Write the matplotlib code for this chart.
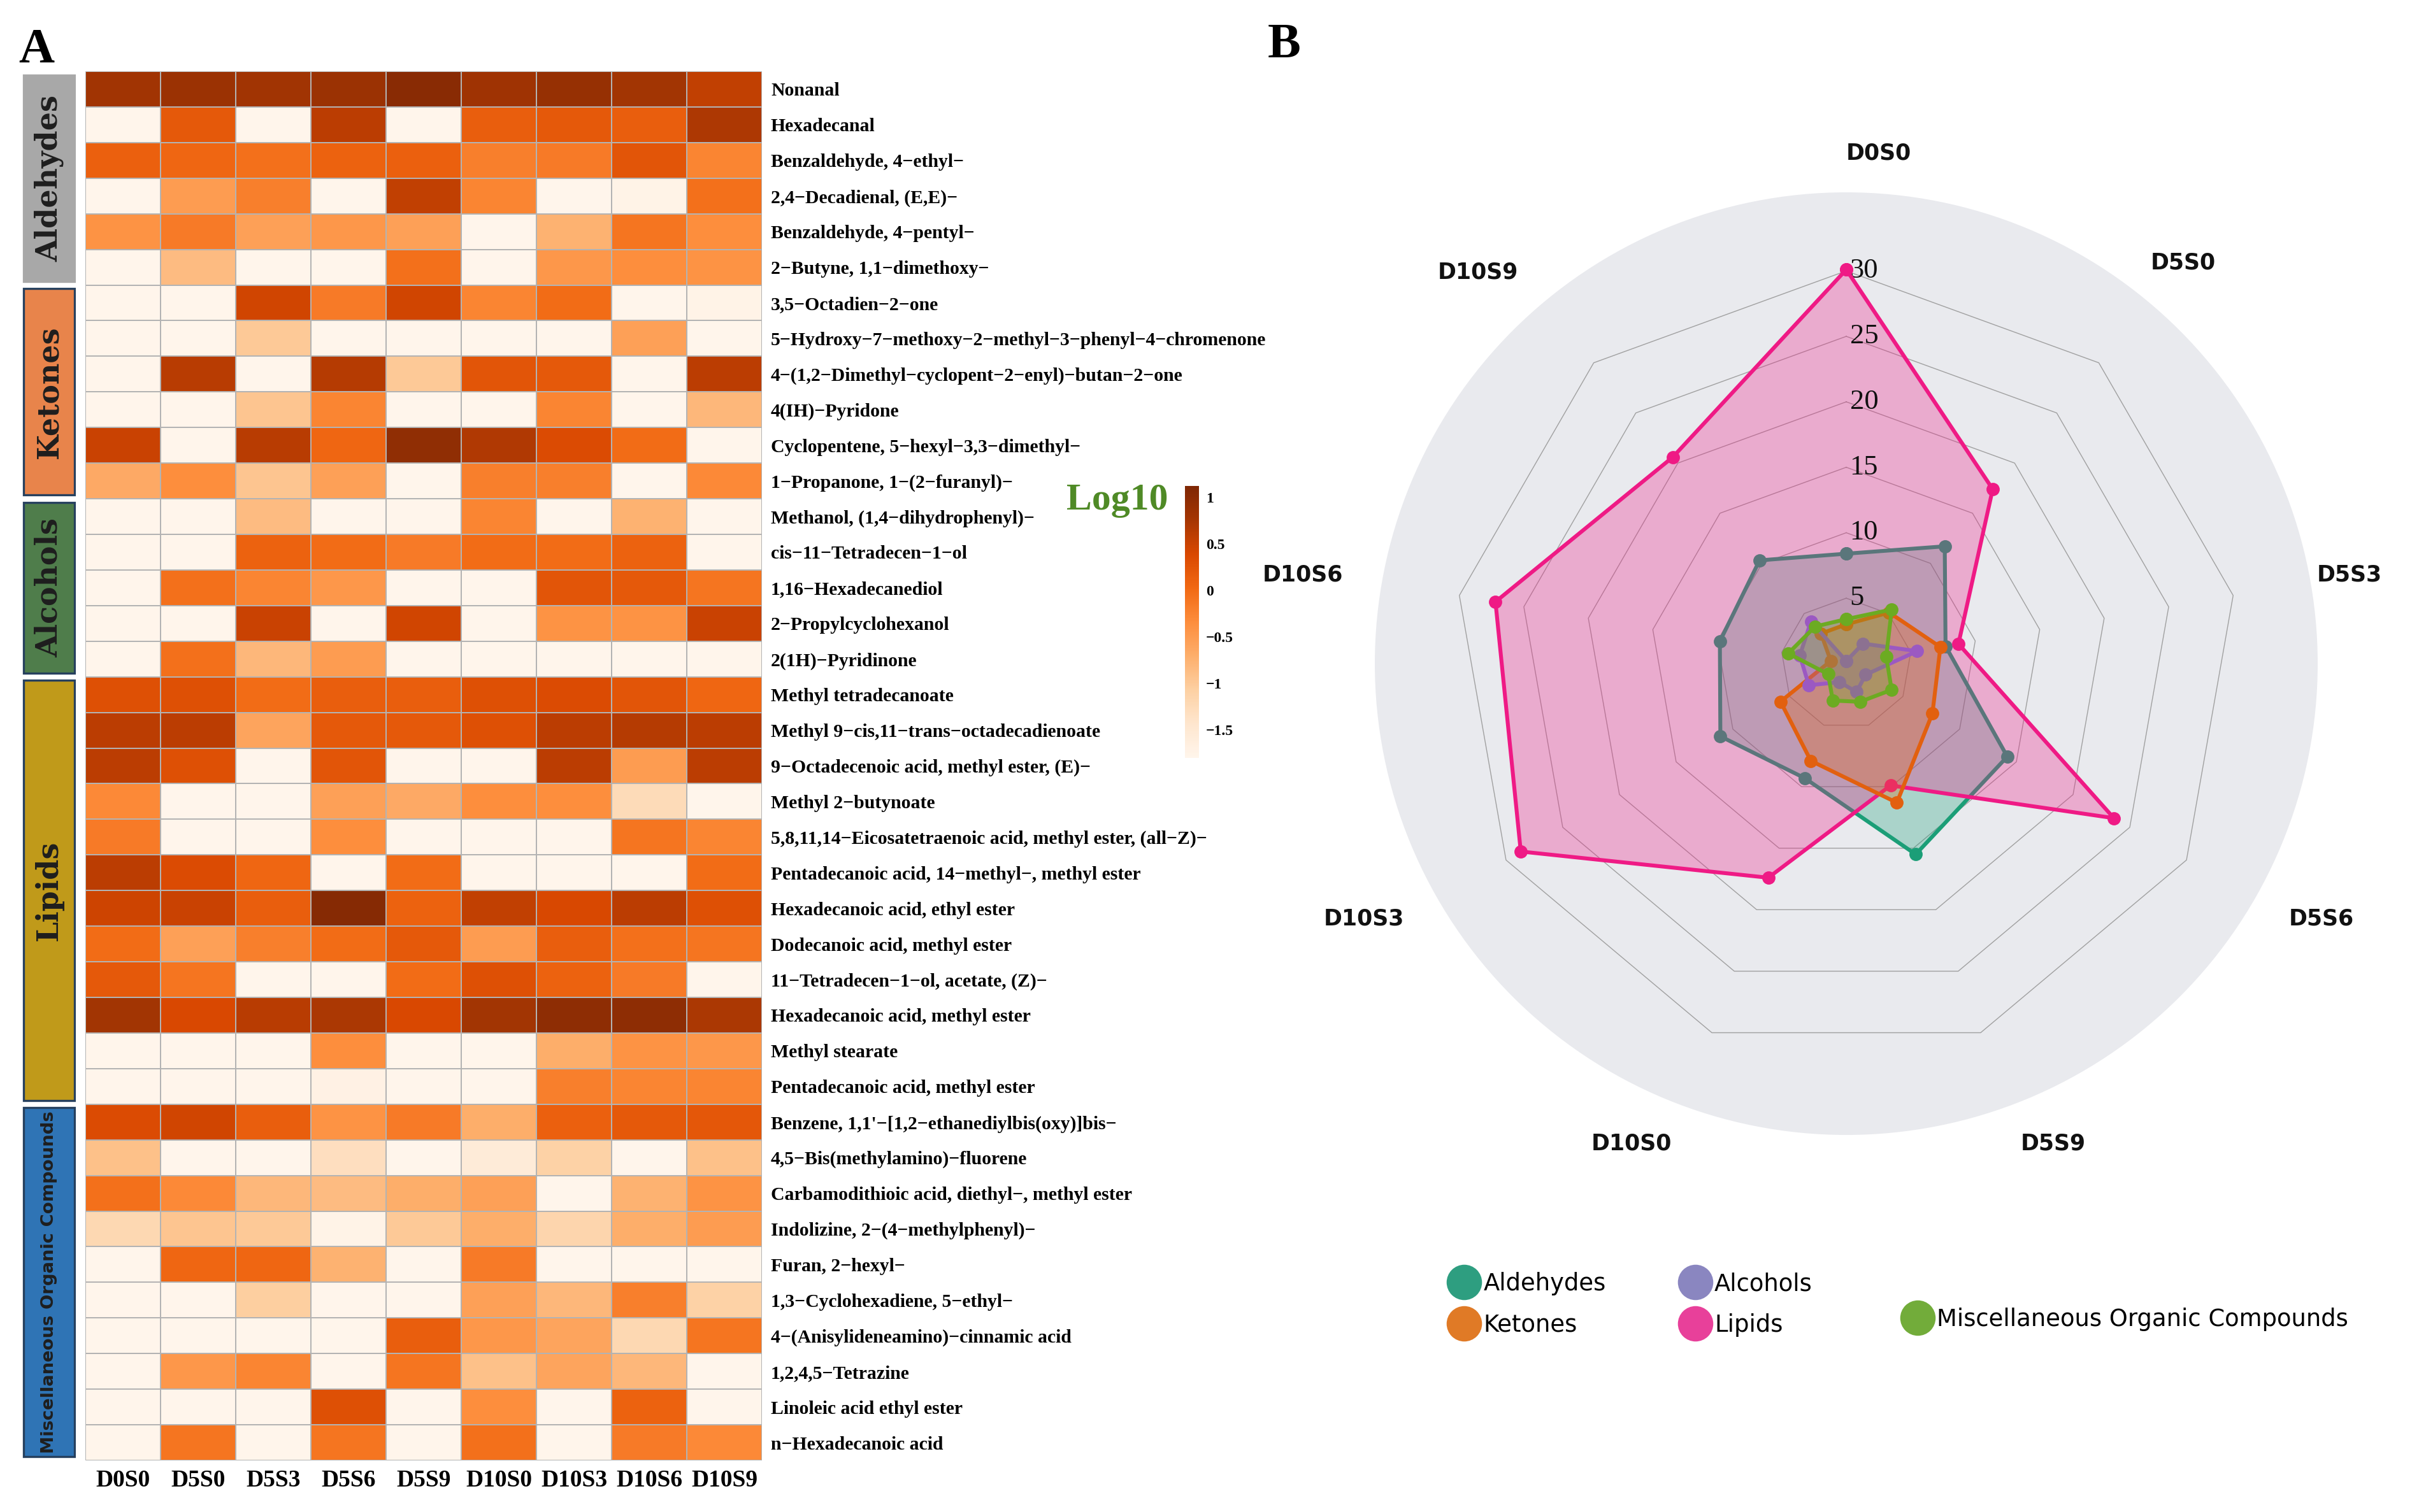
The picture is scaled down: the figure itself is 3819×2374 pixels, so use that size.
import numpy as np
import matplotlib
matplotlib.use('Agg')
import matplotlib.pyplot as plt
from matplotlib import font_manager
from matplotlib.patches import Rectangle
from matplotlib.lines import Line2D
from matplotlib.transforms import offset_copy

available = {f.name for f in font_manager.fontManager.ttflist}
NARROW = 'Liberation Sans Narrow' in available
SERIF = ['Liberation Serif', 'DejaVu Serif']
SANS_N = ['Liberation Sans Narrow', 'Liberation Sans', 'DejaVu Sans'] if NARROW else ['DejaVu Sans']

# ---------------- data ----------------
samples = ['D0S0', 'D5S0', 'D5S3', 'D5S6', 'D5S9', 'D10S0', 'D10S3', 'D10S6', 'D10S9']

aldehyde_names = ['Nonanal', 'Hexadecanal', 'Benzaldehyde, 4−ethyl−', '2,4−Decadienal, (E,E)−',
                  'Benzaldehyde, 4−pentyl−', '2−Butyne, 1,1−dimethoxy−']
aldehyde_log10 = [
    [0.80, 0.85, 0.80, 0.85, 1.02, 0.82, 0.90, 0.78, 0.55],
    [-1.80, 0.20, -1.80, 0.60, -1.80, 0.15, 0.20, 0.15, 0.70],
    [0.12, 0.05, -0.05, 0.10, 0.12, -0.20, -0.15, 0.25, -0.25],
    [-1.80, -0.50, -0.20, -1.80, 0.55, -0.25, -1.80, -1.75, -0.05],
    [-0.40, -0.15, -0.55, -0.45, -0.55, -1.80, -0.75, -0.10, -0.35],
    [-1.80, -0.85, -1.80, -1.80, -0.05, -1.80, -0.45, -0.35, -0.40],
]
ketone_names = ['3,5−Octadien−2−one', '5−Hydroxy−7−methoxy−2−methyl−3−phenyl−4−chromenone',
                '4−(1,2−Dimethyl−cyclopent−2−enyl)−butan−2−one', '4(IH)−Pyridone',
                'Cyclopentene, 5−hexyl−3,3−dimethyl−', '1−Propanone, 1−(2−furanyl)−']
ketone_log10 = [
    [-1.80, -1.80, 0.45, -0.15, 0.45, -0.25, 0.00, -1.80, -1.75],
    [-1.80, -1.80, -1.00, -1.80, -1.80, -1.80, -1.80, -0.55, -1.80],
    [-1.80, 0.62, -1.80, 0.65, -1.00, 0.25, 0.20, -1.80, 0.60],
    [-1.80, -1.80, -0.95, -0.25, -1.80, -1.80, -0.25, -1.80, -0.80],
    [0.50, -1.80, 0.62, 0.05, 0.95, 0.68, 0.35, 0.00, -1.80],
    [-0.65, -0.35, -0.95, -0.55, -1.80, -0.20, -0.20, -1.80, -0.30],
]
alcohol_names = ['Methanol, (1,4−dihydrophenyl)−', 'cis−11−Tetradecen−1−ol', '1,16−Hexadecanediol',
                 '2−Propylcyclohexanol', '2(1H)−Pyridinone']
alcohol_log10 = [
    [-1.80, -1.80, -0.85, -1.80, -1.80, -0.25, -1.80, -0.75, -1.80],
    [-1.80, -1.80, 0.10, 0.00, -0.15, 0.00, 0.00, 0.10, -1.80],
    [-1.80, -0.05, -0.25, -0.45, -1.80, -1.80, 0.25, 0.20, -0.10],
    [-1.80, -1.80, 0.50, -1.80, 0.45, -1.80, -0.40, -0.40, 0.50],
    [-1.80, -0.05, -0.80, -0.50, -1.80, -1.80, -1.80, -1.80, -1.80],
]
lipid_names = ['Methyl tetradecanoate', 'Methyl 9−cis,11−trans−octadecadienoate',
               '9−Octadecenoic acid, methyl ester, (E)−', 'Methyl 2−butynoate',
               '5,8,11,14−Eicosatetraenoic acid, methyl ester, (all−Z)−',
               'Pentadecanoic acid, 14−methyl−, methyl ester', 'Hexadecanoic acid, ethyl ester',
               'Dodecanoic acid, methyl ester', '11−Tetradecen−1−ol, acetate, (Z)−',
               'Hexadecanoic acid, methyl ester', 'Methyl stearate', 'Pentadecanoic acid, methyl ester']
lipid_log10 = [
    [0.30, 0.30, 0.00, 0.15, 0.15, 0.30, 0.35, 0.25, 0.05],
    [0.60, 0.60, -0.60, 0.20, 0.20, 0.30, 0.60, 0.65, 0.60],
    [0.60, 0.30, -1.80, 0.25, -1.80, -1.80, 0.60, -0.50, 0.60],
    [-0.30, -1.80, -1.80, -0.55, -0.65, -0.35, -0.35, -1.25, -1.80],
    [-0.15, -1.80, -1.80, -0.35, -1.80, -1.80, -1.80, -0.10, -0.25],
    [0.60, 0.35, 0.05, -1.80, 0.00, -1.80, -1.80, -1.80, 0.00],
    [0.48, 0.50, 0.15, 1.05, 0.10, 0.55, 0.40, 0.60, 0.30],
    [0.00, -0.55, -0.20, 0.00, 0.20, -0.50, 0.15, -0.05, -0.10],
    [0.20, -0.10, -1.80, -1.80, 0.00, 0.30, 0.10, -0.15, -1.80],
    [0.78, 0.38, 0.62, 0.72, 0.38, 0.78, 0.98, 0.98, 0.72],
    [-1.80, -1.80, -1.80, -0.35, -1.80, -1.80, -0.70, -0.40, -0.45],
    [-1.80, -1.80, -1.80, -1.70, -1.80, -1.80, -0.20, -0.25, -0.25],
]
misc_names = ['Benzene, 1,1\'−[1,2−ethanediylbis(oxy)]bis−', '4,5−Bis(methylamino)−fluorene',
              'Carbamodithioic acid, diethyl−, methyl ester', 'Indolizine, 2−(4−methylphenyl)−',
              'Furan, 2−hexyl−', '1,3−Cyclohexadiene, 5−ethyl−', '4−(Anisylideneamino)−cinnamic acid',
              '1,2,4,5−Tetrazine', 'Linoleic acid ethyl ester', 'n−Hexadecanoic acid']
misc_log10 = [
    [0.35, 0.45, 0.15, -0.40, -0.15, -0.70, 0.12, 0.20, 0.22],
    [-0.90, -1.80, -1.80, -1.30, -1.80, -1.55, -1.10, -1.80, -0.90],
    [-0.05, -0.30, -0.80, -0.85, -0.70, -0.55, -1.80, -0.75, -0.40],
    [-1.20, -0.95, -1.00, -1.75, -1.00, -0.70, -1.15, -0.70, -0.50],
    [-1.80, 0.05, 0.05, -0.75, -1.80, -0.15, -1.80, -1.80, -1.80],
    [-1.80, -1.80, -1.05, -1.80, -1.80, -0.55, -0.80, -0.20, -1.10],
    [-1.80, -1.80, -1.80, -1.80, 0.15, -0.45, -0.60, -1.20, -0.10],
    [-1.80, -0.45, -0.25, -1.80, -0.10, -0.90, -0.60, -0.80, -1.80],
    [-1.80, -1.80, -1.80, 0.30, -1.80, -0.35, -1.80, 0.10, -1.80],
    [-1.80, -0.10, -1.80, -0.10, -1.80, -0.05, -1.80, -0.15, -0.30],
]

group_labels = ['Aldehydes', 'Ketones', 'Alcohols', 'Lipids', 'Miscellaneous Organic Compounds']
group_bar_colors = ['#a8a8a8', '#e8844b', '#4f7d4b', '#c09a1a', '#2f74b5']
cbar_ticks = [-1.5, -1, -0.5, 0, 0.5, 1]

# radar data (sum per class)
radar_aldehydes = [8.4, 11.7, 7.7, 14.2, 15.5, 9.3, 11.1, 9.8, 10.3]
radar_ketones = [3.0, 5.1, 7.3, 7.6, 11.3, 7.9, 5.8, 1.2, 3.0]
radar_alcohols = [0.2, 2.0, 5.5, 1.7, 2.3, 1.5, 3.3, 3.6, 4.2]
radar_lipids = [30.1, 17.4, 8.7, 23.6, 9.9, 17.4, 28.7, 27.2, 20.6]
radar_misc = [3.4, 5.4, 3.1, 4.0, 3.1, 3.0, 1.6, 4.5, 3.7]
radar_levels = [5, 10, 15, 20, 25, 30]

# ---------------- figure ----------------
W, H = 3819, 2374
fig = plt.figure(figsize=(W / 200, H / 200), dpi=200, facecolor='white')


def fx(px):
    return px / W


def fy(py):
    return 1 - py / H


# heatmap
names = aldehyde_names + ketone_names + alcohol_names + lipid_names + misc_names
vals = np.array(aldehyde_log10 + ketone_log10 + alcohol_log10 + lipid_log10 + misc_log10)
group_sizes = [len(aldehyde_names), len(ketone_names), len(alcohol_names), len(lipid_names), len(misc_names)]
nrow, ncol = vals.shape

hm_left, hm_right, hm_top, hm_bottom = 134, 1196, 112, 2293
axh = fig.add_axes([fx(hm_left), fy(hm_bottom), fx(hm_right - hm_left), (hm_bottom - hm_top) / H])
mesh = axh.pcolormesh(np.arange(ncol + 1), np.arange(nrow + 1), vals, cmap='Oranges',
                      vmin=-1.8, vmax=1.12, edgecolors='#b3b3b3', linewidth=0.6)
axh.set_xlim(0, ncol)
axh.set_ylim(nrow, 0)
axh.set_xticks(np.arange(ncol) + 0.5)
axh.set_xticklabels(samples, fontfamily=SERIF, fontweight='bold', fontsize=13.5)
axh.set_yticks(np.arange(nrow) + 0.5)
axh.set_yticklabels(names, fontfamily=SERIF, fontweight='bold', fontsize=10.7)
axh.yaxis.tick_right()
axh.tick_params(axis='y', length=0, pad=5)
axh.tick_params(axis='x', length=0, pad=5)
for s in axh.spines.values():
    s.set_visible(False)

# group bars
axg = fig.add_axes([fx(35), fy(hm_bottom), fx(84), (hm_bottom - hm_top) / H])
axg.set_xlim(0, 1)
axg.set_ylim(nrow, 0)
axg.axis('off')
start = 0
for i, (lab, n, col) in enumerate(zip(group_labels, group_sizes, group_bar_colors)):
    ec = col if i == 0 else '#26405e'
    axg.add_patch(Rectangle((0.02, start + 0.1), 0.96, n - 0.2, facecolor=col, edgecolor=ec, lw=1.2))
    if i < 4:
        axg.text(0.5, start + n / 2, lab, rotation=90, ha='center', va='center',
                 fontfamily=['DejaVu Serif'], fontweight='bold', fontsize=16.5, color='#1e1e1e')
    else:
        axg.text(0.5, start + n / 2, lab, rotation=90, ha='center', va='center',
                 fontfamily=['DejaVu Sans'], fontweight='bold', fontsize=9.9, color='#1e1e1e')
    start += n

# colorbar
cax = fig.add_axes([fx(1860), fy(1190), fx(22), (1190 - 763) / H])
cb = fig.colorbar(mesh, cax=cax, ticks=cbar_ticks)
cb.outline.set_visible(False)
cax.tick_params(length=0, pad=4)
cax.set_yticklabels(['−1.5', '−1', '−0.5', '0', '0.5', '1'])
for t in cax.get_yticklabels():
    t.set_fontfamily(SERIF)
    t.set_fontweight('bold')
    t.set_fontsize(8.5)
fig.text(fx(1754), fy(786), 'Log10', ha='center', va='center', fontfamily=SERIF,
         fontweight='bold', fontsize=21.5, color='#4f8a26')

# panel letters
fig.text(fx(29), fy(80), 'A', ha='left', va='center', fontfamily=SERIF, fontweight='bold', fontsize=28)
fig.text(fx(1990), fy(72), 'B', ha='left', va='center', fontfamily=SERIF, fontweight='bold', fontsize=28)

# ---------------- radar ----------------
cx, cy, R = 2898, 1042, 740
axr = fig.add_axes([fx(cx - R), fy(cy + R), fx(2 * R), 2 * R / H], projection='polar')
axr.set_theta_zero_location('N')
axr.set_theta_direction(-1)
axr.set_ylim(0, 36)
axr.set_facecolor('#e9eaee')
axr.grid(False)
axr.set_xticks([])
axr.set_yticks([])
axr.spines['polar'].set_visible(False)

theta = np.linspace(0, 2 * np.pi, len(samples), endpoint=False)
closed = np.append(theta, theta[0])
for lev in radar_levels:
    axr.plot(closed, [lev] * len(closed), color='#a0a0a0', lw=0.5, zorder=1)

radar_series = [
    ('Aldehydes', radar_aldehydes, '#1b9e77'),
    ('Lipids', radar_lipids, '#ef1a85'),
    ('Ketones', radar_ketones, '#e2600f'),
    ('Alcohols', radar_alcohols, '#9b59c2'),
    ('Miscellaneous Organic Compounds', radar_misc, '#6cab22'),
]
for k, (nm, v, col) in enumerate(radar_series):
    vv = np.append(v, v[0])
    axr.fill(closed, vv, color=col, alpha=0.3, lw=0, zorder=2 + 2 * k)
    axr.plot(closed, vv, color=col, lw=2.2, marker='o', ms=6.5, zorder=3 + 2 * k)

trans = offset_copy(axr.transData, fig=fig, x=2, y=0, units='points')
for lev in radar_levels:
    axr.text(0, lev, str(lev), transform=trans, ha='left', va='center', fontfamily=SERIF,
             fontsize=16, color='#111111', zorder=4.5)

lab_fs = 17.5 if NARROW else 12.5
label_ha = ['left', 'center', 'center', 'left', 'left', 'right', 'right', 'right', 'right']
label_r = [39, 40, 39, 39, 39, 39, 39, 39, 39]
for ang, s, ha, rr in zip(theta, samples, label_ha, label_r):
    axr.text(ang, rr, s, ha=ha, va='center', fontfamily=SANS_N, fontweight='bold',
             fontsize=lab_fs, color='#111111', clip_on=False)

# legend
leg_colors = {'Aldehydes': '#2e9e80', 'Ketones': '#e07a26', 'Alcohols': '#8a86c0',
              'Lipids': '#e8409a', 'Miscellaneous Organic Compounds': '#72ac3a'}
leg_fs = 18 if NARROW else 13.3


def handle(c):
    return Line2D([], [], ls='none', marker='o', ms=20, mfc=c, mec='none')


first = ['Aldehydes', 'Ketones', 'Alcohols', 'Lipids']
leg1 = fig.legend([handle(leg_colors[n]) for n in first], first, loc='center left',
                  bbox_to_anchor=(fx(2261), fy(2048)), ncol=2, frameon=False, borderpad=0,
                  handlelength=1.0, handletextpad=0.32, columnspacing=3.3, labelspacing=0.75,
                  prop={'family': SANS_N, 'size': leg_fs})
leg2 = fig.legend([handle(leg_colors['Miscellaneous Organic Compounds'])],
                  ['Miscellaneous Organic Compounds'], loc='center left',
                  bbox_to_anchor=(fx(2973), fy(2071)), frameon=False, borderpad=0,
                  handlelength=1.0, handletextpad=0.32, prop={'family': SANS_N, 'size': leg_fs})

fig.savefig('out.png', dpi=200, facecolor='white')
